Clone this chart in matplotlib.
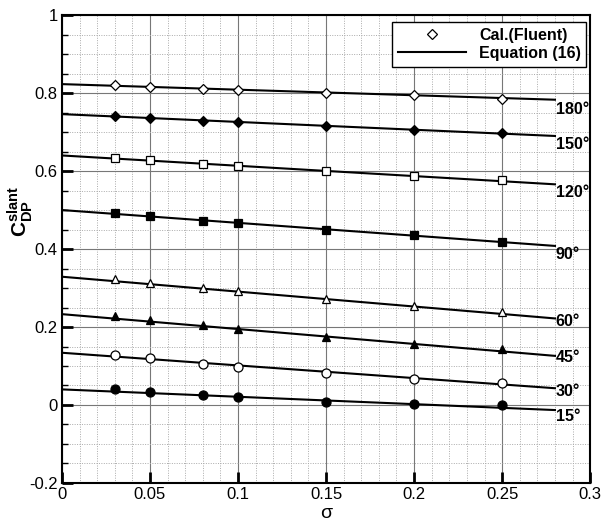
import matplotlib
matplotlib.use("Agg")
import matplotlib.pyplot as plt
import numpy as np
from matplotlib.ticker import MultipleLocator
from matplotlib.lines import Line2D

plt.rcParams['font.family'] = ['Liberation Sans', 'DejaVu Sans']
plt.rcParams['mathtext.fontset'] = 'custom'
plt.rcParams['mathtext.rm'] = 'Liberation Sans'
plt.rcParams['mathtext.bf'] = 'Liberation Sans:bold'

sigma = [0.03, 0.05, 0.08, 0.10, 0.15, 0.20, 0.25]
angles = ['180°', '150°', '120°', '90°', '60°', '45°', '30°', '15°']
cal_180 = [0.820, 0.815, 0.810, 0.808, 0.800, 0.795, 0.786]
cal_150 = [0.741, 0.735, 0.728, 0.726, 0.715, 0.705, 0.697]
cal_120 = [0.633, 0.628, 0.619, 0.613, 0.600, 0.587, 0.577]
cal_90 = [0.493, 0.485, 0.473, 0.467, 0.450, 0.436, 0.419]
cal_60 = [0.322, 0.314, 0.301, 0.292, 0.272, 0.254, 0.239]
cal_45 = [0.228, 0.218, 0.204, 0.194, 0.175, 0.156, 0.143]
cal_30 = [0.128, 0.120, 0.106, 0.097, 0.081, 0.066, 0.056]
cal_15 = [0.040, 0.033, 0.025, 0.021, 0.008, 0.003, 0.000]
cal_all = [cal_180, cal_150, cal_120, cal_90, cal_60, cal_45, cal_30, cal_15]

# Equation (16) line: value at sigma=0 and at sigma=0.28
eq_sigma = [0.0, 0.28]
eq_start = [0.823, 0.746, 0.640, 0.500, 0.329, 0.233, 0.134, 0.040]
eq_end = [0.783, 0.690, 0.566, 0.408, 0.222, 0.126, 0.043, -0.013]
label_y = [0.759, 0.669, 0.544, 0.387, 0.213, 0.123, 0.034, -0.030]

markers = ['D', 'D', 's', 's', '^', '^', 'o', 'o']
filled = [False, True, False, True, False, True, False, True]
msizes = [5, 5, 5.5, 5.5, 5.5, 5.5, 6.5, 6.5]

fig = plt.figure(figsize=(6.01, 5.21), dpi=100)
ax = fig.add_axes([0.103, 0.073, 0.879, 0.898])

for i in range(len(angles)):
    ax.plot(eq_sigma, [eq_start[i], eq_end[i]], color='black', lw=1.5, zorder=3)
    ax.plot(sigma, cal_all[i], linestyle='none', marker=markers[i], ms=msizes[i],
            mfc='black' if filled[i] else 'white', mec='black', mew=0.9, zorder=4)
    ax.text(0.2805, label_y[i], angles[i], fontsize=11.5, fontweight='bold',
            ha='left', va='center', zorder=5)

ax.set_xlim(0, 0.3)
ax.set_ylim(-0.2, 1.0)
ax.xaxis.set_minor_locator(MultipleLocator(0.01))
ax.yaxis.set_minor_locator(MultipleLocator(0.05))
ax.set_xticks([0, 0.05, 0.1, 0.15, 0.2, 0.25, 0.3])
ax.set_xticklabels(['0', '0.05', '0.1', '0.15', '0.2', '0.25', '0.3'])
ax.set_yticks([-0.2, 0, 0.2, 0.4, 0.6, 0.8, 1.0])
ax.set_yticklabels(['-0.2', '0', '0.2', '0.4', '0.6', '0.8', '1'])

ax.grid(which='major', color='#777777', lw=0.8, ls='-', zorder=1)
ax.grid(which='minor', color='#aaaaaa', lw=0.7, ls=(0, (1, 1.5)), zorder=1)
ax.set_axisbelow(True)

ax.tick_params(which='major', direction='in', length=8, width=2, labelsize=12,
               top=False, right=False, pad=3)
ax.tick_params(which='minor', direction='in', length=4, width=1, top=False, right=False,
               bottom=False)
for s in ax.spines.values():
    s.set_linewidth(1.5)

ax.set_xlabel('σ', fontsize=14, labelpad=2)
ax.set_ylabel(r'$\mathbf{C}_{\mathbf{DP}}^{\mathbf{slant}}$', fontsize=15)
ax.yaxis.set_label_coords(-0.05, 0.58)

handles = [Line2D([], [], ls='none', marker='D', ms=5, mfc='white', mec='black', mew=0.9),
           Line2D([], [], color='black', lw=1.5)]
leg = ax.legend(handles, ['Cal.(Fluent)', 'Equation (16)'], loc='upper right',
                bbox_to_anchor=(0.993, 0.985), prop={'weight': 'bold', 'size': 11.5},
                fancybox=False, edgecolor='black', framealpha=1, handlelength=4.3,
                borderpad=0.35, labelspacing=0.2, handletextpad=0.8, borderaxespad=0)
leg.get_frame().set_linewidth(1.0)

fig.savefig('out.png', dpi=100)
